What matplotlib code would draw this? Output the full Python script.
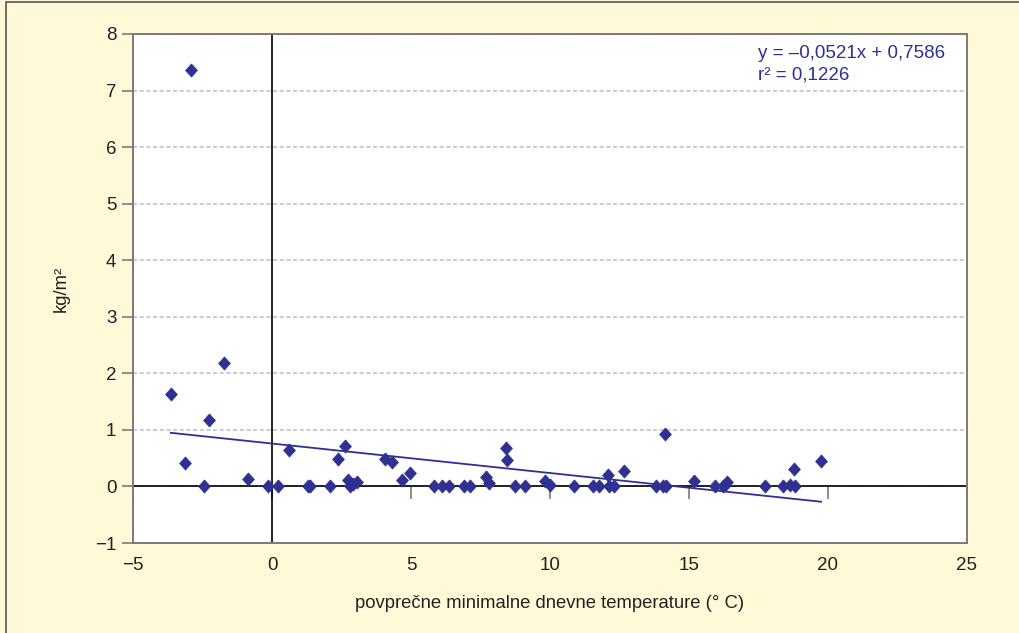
import numpy as np
import matplotlib
matplotlib.use("Agg")
import matplotlib.pyplot as plt
from matplotlib.patches import Rectangle

plt.rcParams['font.family'] = ['Liberation Sans', 'DejaVu Sans']

# temperature (x) and amount in kg/m2 (y)
temp = [-3.64, -2.92, -3.14, -2.44, -2.26, -1.72, -0.88, -0.15, 0.20, 0.61,
        1.28, 1.37, 2.09, 2.37, 2.61, 2.75, 2.80, 2.92, 3.04, 4.08,
        4.33, 4.67, 4.98, 5.82, 6.11, 6.36, 6.89, 7.12, 7.71, 7.80,
        8.40, 8.44, 8.73, 9.11, 9.83, 9.99, 10.87, 11.56, 11.76, 12.09,
        12.12, 12.29, 12.66, 13.80, 14.06, 14.16, 14.12, 15.19, 15.92, 16.21,
        16.31, 16.36, 17.72, 18.37, 18.64, 18.83, 18.79, 19.75]
amount = [1.64, 7.37, 0.41, 0.00, 1.18, 2.18, 0.14, 0.00, 0.01, 0.65,
          0.01, 0.00, 0.00, 0.48, 0.72, 0.12, 0.00, 0.04, 0.07, 0.48,
          0.43, 0.11, 0.24, 0.01, 0.00, 0.00, 0.00, 0.00, 0.16, 0.06,
          0.68, 0.47, 0.00, 0.00, 0.10, 0.02, 0.00, 0.00, 0.00, 0.20,
          0.00, 0.00, 0.27, 0.00, 0.00, 0.00, 0.92, 0.10, 0.00, 0.00,
          0.02, 0.08, 0.00, 0.00, 0.02, 0.00, 0.30, 0.45]

slope, intercept = -0.0521, 0.7586
eq_text = "y = \u20130,0521x + 0,7586\nr\u00b2 = 0,1226"

navy = '#2E3192'
bg = '#FFF9D7'
diamond = [(0, 1), (0.9, 0), (0, -1), (-0.9, 0), (0, 1)]

fig = plt.figure(figsize=(10.2, 6.33), dpi=100, facecolor=bg)
fig.patches.append(Rectangle((6/1020, -0.05), 1.2, 0.05 + 631/633, transform=fig.transFigure,
                             fill=False, edgecolor='#555555', linewidth=1.2))
ax = fig.add_axes([133/1020, 90/633, 834/1020, 509/633])
ax.set_facecolor('white')

ax.set_xlim(-5, 25)
ax.set_ylim(-1, 8)
ax.set_xticks(range(-5, 26, 5))
ax.set_yticks(range(-1, 9))

for s in ax.spines.values():
    s.set_color('#7a7a7a')
    s.set_linewidth(1.4)

ax.yaxis.grid(True, color='#c4c4c4', linestyle=(0, (2.5, 1.5)), linewidth=1.2)
ax.set_axisbelow(True)

ax.tick_params(axis='y', direction='out', length=8, width=1.2, color='#7a7a7a',
               labelsize=13.5, pad=4, labelcolor='#222222')
ax.tick_params(axis='x', length=0, labelsize=13.5, pad=10, labelcolor='#222222')

# axis crossing at y=0 with ticks, and vertical line at x=0
sec = ax.secondary_xaxis(0, transform=ax.transData)
sec.set_xticks(range(-5, 26, 5))
sec.set_xticklabels([])
sec.spines['bottom'].set_visible(False)
sec.tick_params(direction='out', length=9, width=1.2, color='#7a7a7a')
ax.axhline(0, color='black', linewidth=1.2, zorder=2)
ax.axvline(0, color='black', linewidth=1.2, zorder=2)

xs = np.array([min(temp), max(temp)])
ax.plot(xs, slope * xs + intercept, color=navy, linewidth=1.3, zorder=3)
ax.plot(temp, amount, linestyle='none', marker=diamond, markersize=9.5,
        markerfacecolor=navy, markeredgecolor=navy, markeredgewidth=0.5, zorder=4)

ax.text(0.749, 0.978, eq_text, transform=ax.transAxes, ha='left', va='top',
        fontsize=13.5, color=navy, linespacing=1.3)

ax.set_xlabel("povprečne minimalne dnevne temperature (° C)", fontsize=13.3, color='#222222')
ax.set_ylabel("kg/m\u00b2", fontsize=13.3, color='#222222')
ax.xaxis.set_label_coords(0.5, -0.102)
ax.yaxis.set_label_coords(-0.076, 0.5)

fig.savefig("out.png", dpi=100, facecolor=bg)
